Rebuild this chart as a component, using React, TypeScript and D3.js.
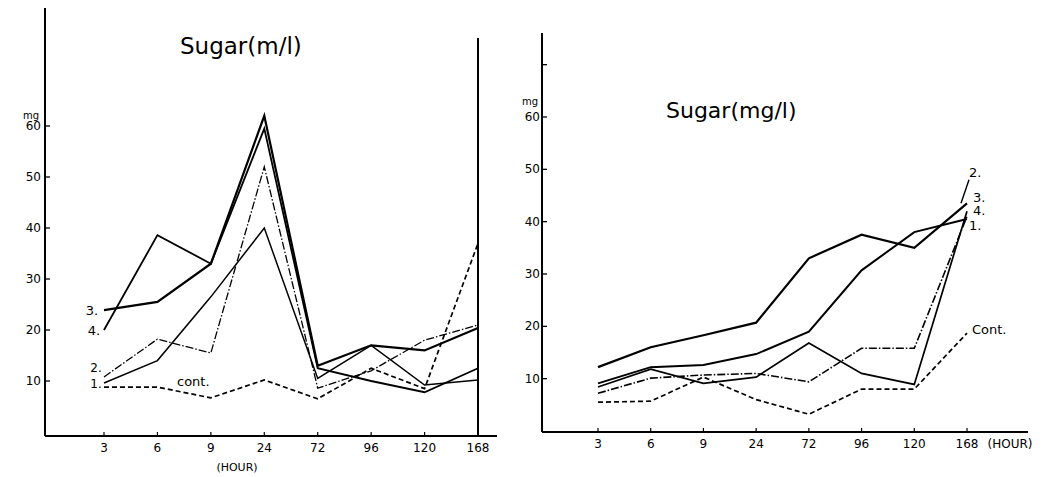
import * as d3 from 'd3';

// hours on the x axis (same for both panels)
const hours = ['3', '6', '9', '24', '72', '96', '120', '168'];
const yTicks = [10, 20, 30, 40, 50, 60];

// left panel, Sugar (m/l)
const left1 = [9.6, 14, 26.5, 40, 10.5, 17, 9.2, 10.2];
const left2 = [10.8, 18.2, 15.5, 52, 8.6, 12, 18, 21];
const left3 = [23.9, 25.5, 33, 62, 13, 17, 16, 20.4];
const left4 = [20, 38.6, 33, 59.5, 12.5, 10, 7.8, 12.5];
const leftCont = [8.8, 8.8, 6.7, 10.2, 6.5, 12.5, 8.5, 37];

// right panel, Sugar (mg/l)
const right1 = [9.1, 12.2, 12.6, 14.7, 19, 30.7, 38, 40.5];
const right2 = [12.2, 16, 18.3, 20.7, 33, 37.5, 35, 43.5];
const right3 = [8.4, 11.8, 9.1, 10.3, 16.8, 11, 8.9, 42];
const right4 = [7.2, 10.1, 10.7, 11, 9.4, 15.8, 15.8, 41];
const rightCont = [5.5, 5.7, 10.3, 6, 3.2, 8, 8, 18.7];

const font = '"DejaVu Sans", sans-serif';

function App() {
  const xL = d3.scalePoint<string>().domain(hours).range([104, 478]);
  const yL = d3.scaleLinear().domain([0, 60]).range([432, 126]);
  const xR = d3.scalePoint<string>().domain(hours).range([598, 967]);
  const yR = d3.scaleLinear().domain([0, 60]).range([431, 117]);

  const lineL = d3.line<number>().x((d, i) => xL(hours[i])!).y((d) => yL(d));
  const lineR = d3.line<number>().x((d, i) => xR(hours[i])!).y((d) => yR(d));

  const leftSeries = [
    { v: left1, w: 1.5, dash: '' },
    { v: left2, w: 1.3, dash: '8,2,1.5,2' },
    { v: left3, w: 2.2, dash: '' },
    { v: left4, w: 1.8, dash: '' },
    { v: leftCont, w: 1.7, dash: '5,3' },
  ];
  const rightSeries = [
    { v: right1, w: 2, dash: '' },
    { v: right2, w: 2.2, dash: '' },
    { v: right3, w: 1.7, dash: '' },
    { v: right4, w: 1.6, dash: '8,2,1.5,2' },
    { v: rightCont, w: 1.7, dash: '5,3' },
  ];

  const last = hours[hours.length - 1];

  return (
    <svg width={1042} height={477} style={{ position: 'absolute', left: 0, top: 0, background: '#fff' }}
      fontFamily={font}>
      <rect width={1042} height={477} fill="#fff" />

      {/* left panel */}
      <g stroke="#000" fill="none">
        <line x1={45} y1={8} x2={45} y2={436} strokeWidth={2} />
        <line x1={45} y1={436} x2={497} y2={436} strokeWidth={2} />
        <line x1={478} y1={38} x2={478} y2={436} strokeWidth={2} />
        {yTicks.map((t) => (
          <line key={t} x1={45} x2={50} y1={yL(t)} y2={yL(t)} strokeWidth={1.3} />
        ))}
        {hours.map((h) => (
          <line key={h} x1={xL(h)} x2={xL(h)} y1={436} y2={432} strokeWidth={1.2} />
        ))}
        {leftSeries.map((s, i) => (
          <path key={i} d={lineL(s.v)!} strokeWidth={s.w} strokeDasharray={s.dash || undefined} />
        ))}
      </g>
      <g fontSize={12} fill="#000">
        {yTicks.map((t) => (
          <text key={t} x={41} y={yL(t) + 4} textAnchor="end">{t}</text>
        ))}
        <text x={31} y={yL(60) - 7} textAnchor="middle" fontSize={10}>mg</text>
        {hours.map((h) => (
          <text key={h} x={xL(h)} y={452} textAnchor="middle">{h}</text>
        ))}
        <text x={237} y={471} textAnchor="middle" fontSize={11}>(HOUR)</text>
        <text x={180} y={54} fontSize={23}>Sugar(m/l)</text>
        <text x={92} y={315} textAnchor="middle" fontSize={13}>3.</text>
        <text x={94} y={335} textAnchor="middle" fontSize={13}>4.</text>
        <text x={96} y={372} textAnchor="middle" fontSize={12}>2.</text>
        <text x={96} y={388} textAnchor="middle" fontSize={12}>1.</text>
        <text x={177} y={386} fontSize={13}>cont.</text>
      </g>

      {/* right panel */}
      <g stroke="#000" fill="none">
        <line x1={542} y1={33} x2={542} y2={432} strokeWidth={2} />
        <line x1={542} y1={432} x2={1028} y2={432} strokeWidth={2} />
        {[...yTicks, 70].map((t) => (
          <line key={t} x1={542} x2={547} y1={yR(t)} y2={yR(t)} strokeWidth={1.3} />
        ))}
        {hours.map((h) => (
          <line key={h} x1={xR(h)} x2={xR(h)} y1={432} y2={428} strokeWidth={1.2} />
        ))}
        {rightSeries.map((s, i) => (
          <path key={i} d={lineR(s.v)!} strokeWidth={s.w} strokeDasharray={s.dash || undefined} />
        ))}
        <line x1={xR(last)! + 2} y1={yR(48)} x2={xR(last)! - 6} y2={yR(43.5)} strokeWidth={1.4} />
      </g>
      <g fontSize={12} fill="#000">
        {yTicks.map((t) => (
          <text key={t} x={540} y={yR(t) + 4} textAnchor="end">{t}</text>
        ))}
        <text x={530} y={yR(60) - 12} textAnchor="middle" fontSize={10}>mg</text>
        {hours.map((h) => (
          <text key={h} x={xR(h)} y={448} textAnchor="middle">{h}</text>
        ))}
        <text x={1010} y={448} textAnchor="middle" fontSize={12}>(HOUR)</text>
        <text x={666} y={118} fontSize={22}>Sugar(mg/l)</text>
        <text x={xR(last)! + 2} y={yR(48.6)} fontSize={13}>2.</text>
        <text x={xR(last)! + 6} y={yR(43.8)} fontSize={13}>3.</text>
        <text x={xR(last)! + 6} y={yR(41.3)} fontSize={13}>4.</text>
        <text x={xR(last)! + 2} y={yR(38.4)} fontSize={13}>1.</text>
        <text x={xR(last)! + 5} y={yR(18.5)} fontSize={13}>Cont.</text>
      </g>
    </svg>
  );
}

export default App;
